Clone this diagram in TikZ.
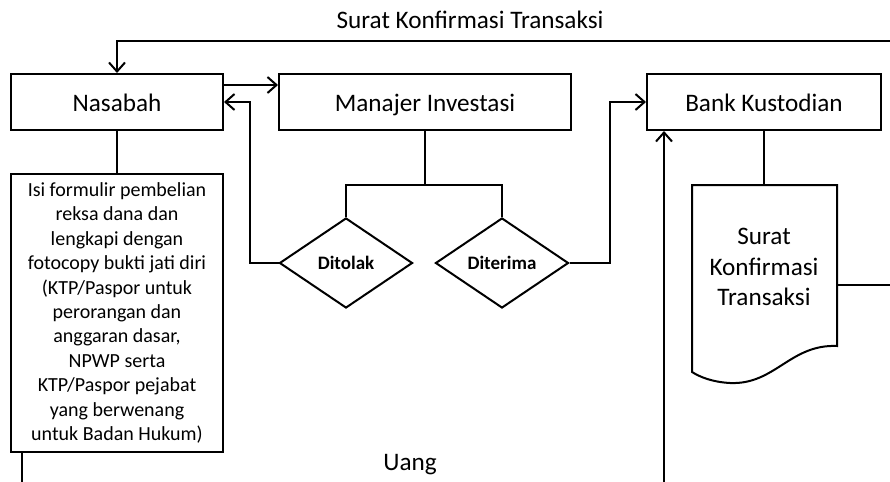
\documentclass[tikz,border=0pt]{standalone}
\usepackage{fontspec}
\setmainfont{Carlito}
\usetikzlibrary{shapes.geometric, arrows.meta}

\begin{document}
\begin{tikzpicture}[x=0.5pt, y=-0.5pt, line width=1pt, >={Straight Barb[length=4.5pt, width=8pt]},
    box/.style={draw, rectangle, minimum width=#1, minimum height=28pt, inner sep=0pt, text height=10.6pt, text depth=1.4pt, font=\fontsize{12.6}{15.4}\selectfont},
    formbox/.style={draw, rectangle, minimum width=106pt, minimum height=139pt, inner sep=0pt, align=center, font=\fontsize{10}{12.2}\selectfont},
    cond/.style={draw, diamond, minimum width=66.5pt, minimum height=45pt, inner sep=0pt, font=\fontsize{9.5}{11}\selectfont\bfseries},
    lbl/.style={font=\fontsize{12.6}{15.4}\selectfont}]
    \useasboundingbox (0,0) rectangle (890,482);

    \node[box=106pt] (nasabah) at (117,102) {Nasabah};
    \node[box=146pt] (manajer) at (425,102) {Manajer Investasi};
    \node[box=117pt] (bank) at (764,102) {Bank Kustodian};
    \node[formbox] (isi) at (117,313) {Isi formulir pembelian\\reksa dana dan\\lengkapi dengan\\fotocopy bukti jati diri\\(KTP/Paspor untuk\\perorangan dan\\anggaran dasar,\\NPWP serta\\KTP/Paspor pejabat\\yang berwenang\\untuk Badan Hukum)};

    \node[cond] (ditolak) at (346,263) {Ditolak};
    \node[cond] (diterima) at (502,263) {Diterima};

    \draw[fill=white] (692,185) -- (837,185) -- (837,346) .. controls (790,344) and (775,385) .. (730,383) .. controls (712,382) and (700,377) .. (692,372) -- cycle;
    \node[lbl, align=center] (surat) at (764,267) {Surat\\Konfirmasi\\Transaksi};

    \node[lbl] (judul) at (470,20) {Surat Konfirmasi Transaksi};
    \node[lbl] (uang) at (410,465) {Uang};

    \coordinate (split) at (425,185);
    \coordinate (doctop) at (764,185);
    \coordinate (docR) at (837,285);
    \coordinate (outR) at (890,285);
    \coordinate (topR) at (890,41);
    \coordinate (botB) at (664,482);
    \coordinate (botI) at (22,482);

    \draw[->] (topR) -| (nasabah.north);
    \draw[->] ([yshift=8.5pt]nasabah.east) -- ([yshift=8.5pt]manajer.west);
    \draw[->] (ditolak.west) -- ++(-14.5pt,0) |- (nasabah.east);
    \draw (manajer.south) -- (split);
    \draw (ditolak.north) |- (split) -| (diterima.north);
    \draw[->] (diterima.east) -- ++(20pt,0) |- (bank.west);
    \draw (bank.south) -- (doctop);
    \draw (docR) -- (outR);
    \draw[->] (botB) -- (botB |- bank.south);
    \draw (nasabah.south) -- (isi.north);
    \draw (isi.south -| botI) -- (botI);

\end{tikzpicture}
\end{document}
